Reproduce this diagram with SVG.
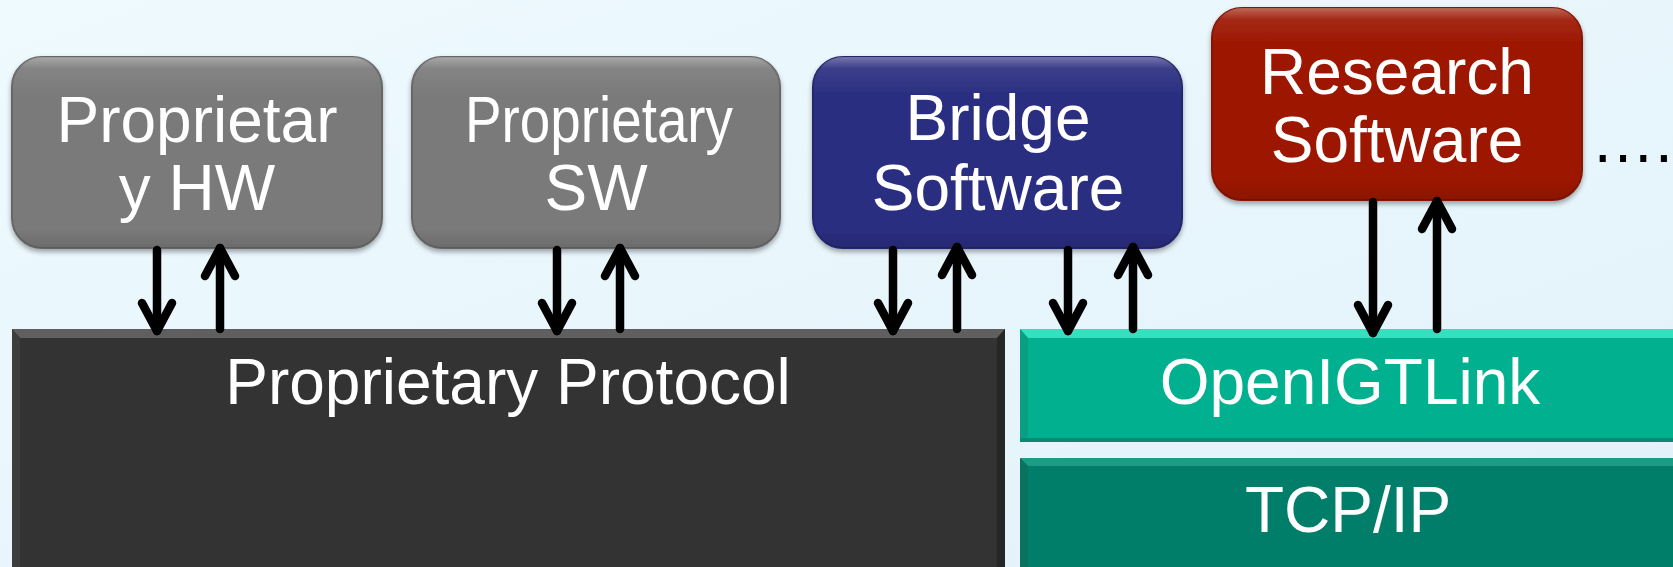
<svg xmlns="http://www.w3.org/2000/svg" width="1673" height="567" viewBox="0 0 1673 567">
  <defs>
    <linearGradient id="bg" x1="0" y1="0" x2="1" y2="1">
      <stop offset="0" stop-color="#eefafe"/>
      <stop offset="1" stop-color="#e2f1fa"/>
    </linearGradient>
    <linearGradient id="gloss" x1="0" y1="0" x2="0" y2="1">
      <stop offset="0" stop-color="#ffffff" stop-opacity="0.35"/>
      <stop offset="0.06" stop-color="#ffffff" stop-opacity="0.08"/>
      <stop offset="0.2" stop-color="#ffffff" stop-opacity="0"/>
      <stop offset="0.9" stop-color="#000000" stop-opacity="0"/>
      <stop offset="1" stop-color="#000000" stop-opacity="0.12"/>
    </linearGradient>
    <filter id="shadow" x="-10%" y="-10%" width="120%" height="130%">
      <feDropShadow dx="0" dy="3" stdDeviation="2.5" flood-color="#000" flood-opacity="0.35"/>
    </filter>
    <marker id="head" markerUnits="userSpaceOnUse" viewBox="-36 -22 44 44" refX="0" refY="0" markerWidth="44" markerHeight="44" orient="auto" overflow="visible">
      <path d="M-28,-15 L0,0 L-28,15" fill="none" stroke="#000" stroke-width="8.5" stroke-linecap="round" stroke-linejoin="round"/>
    </marker>
    <style>
      .lbl { font-family: "Liberation Sans", Arial, sans-serif; font-size: 64px; fill: #ffffff; text-anchor: middle; }
      .box { filter: url(#shadow); }
      .arrow { fill: none; stroke: #000; stroke-width: 8.5; stroke-linecap: round; marker-end: url(#head); }
    </style>
  </defs>

  <rect width="1673" height="567" fill="url(#bg)"/>

  <!-- Protocol stack bars -->
  <g id="proprietary-protocol">
    <rect x="12" y="329" width="993" height="250" fill="#333333"/>
    <polygon points="12,329 1005,329 997,338 20,338" fill="#5f5f5f"/>
    <polygon points="997,338 1005,329 1005,579 997,579" fill="#262626"/>
    <polygon points="12,329 20,338 20,579 12,579" fill="#3d3d3d"/>
    <text class="lbl" x="508" y="404">Proprietary Protocol</text>
  </g>

  <g id="openigtlink">
    <rect x="1020" y="329" width="665" height="113" fill="#00b08f"/>
    <polygon points="1020,329 1685,329 1685,338 1028,338" fill="#38dfbf"/>
    <polygon points="1020,329 1028,338 1028,436 1020,442" fill="#0a9f83"/>
    <rect x="1020" y="438" width="665" height="4" fill="#0b8a73"/>
    <text class="lbl" x="1350" y="404">OpenIGTLink</text>
  </g>

  <g id="tcp-ip">
    <rect x="1020" y="458" width="665" height="120" fill="#007e69"/>
    <polygon points="1020,458 1685,458 1685,466 1028,466" fill="#1f9a85"/>
    <polygon points="1020,458 1028,466 1028,578 1020,578" fill="#0a7360"/>
    <text class="lbl" x="1348" y="532">TCP/IP</text>
  </g>

  <!-- Application boxes -->
  <g id="proprietary-hw" class="box">
    <rect x="12" y="57" width="370" height="191" rx="30" fill="#7a7a7a" stroke="#666" stroke-width="2"/>
    <rect x="12" y="57" width="370" height="191" rx="30" fill="url(#gloss)"/>
    <text class="lbl" x="197" y="142">Proprietar</text>
    <text class="lbl" x="197" y="210">y HW</text>
  </g>

  <g id="proprietary-sw" class="box">
    <rect x="412" y="57" width="368" height="191" rx="30" fill="#7a7a7a" stroke="#666" stroke-width="2"/>
    <rect x="412" y="57" width="368" height="191" rx="30" fill="url(#gloss)"/>
    <text class="lbl" x="599" y="142" textLength="268" lengthAdjust="spacingAndGlyphs">Proprietary</text>
    <text class="lbl" x="596" y="210">SW</text>
  </g>

  <g id="bridge-software" class="box">
    <rect x="813" y="57" width="369" height="191" rx="30" fill="#2b2e80" stroke="#24276c" stroke-width="2"/>
    <rect x="813" y="57" width="369" height="191" rx="30" fill="url(#gloss)"/>
    <text class="lbl" x="998" y="140">Bridge</text>
    <text class="lbl" x="998" y="210">Software</text>
  </g>

  <g id="research-software" class="box">
    <rect x="1212" y="8" width="370" height="192" rx="30" fill="#9c1600" stroke="#851300" stroke-width="2"/>
    <rect x="1212" y="8" width="370" height="192" rx="30" fill="url(#gloss)"/>
    <text class="lbl" x="1397" y="94">Research</text>
    <text class="lbl" x="1397" y="162">Software</text>
  </g>

  <g id="more">
    <text x="1591" y="162" font-family="Liberation Sans, Arial, sans-serif" font-size="64" fill="#000">….</text>
  </g>

  <!-- Connectors: down = to protocol layer, up = back to application -->
  <g id="connectors">
    <path class="arrow" d="M157,250 V331"/>
    <path class="arrow" d="M220,329 V248"/>
    <path class="arrow" d="M557,250 V331"/>
    <path class="arrow" d="M620,329 V248"/>
    <path class="arrow" d="M893,250 V331"/>
    <path class="arrow" d="M957,329 V247"/>
    <path class="arrow" d="M1068,250 V331"/>
    <path class="arrow" d="M1133,329 V247"/>
    <path class="arrow" d="M1373,202 V333"/>
    <path class="arrow" d="M1437,329 V201"/>
  </g>
</svg>
